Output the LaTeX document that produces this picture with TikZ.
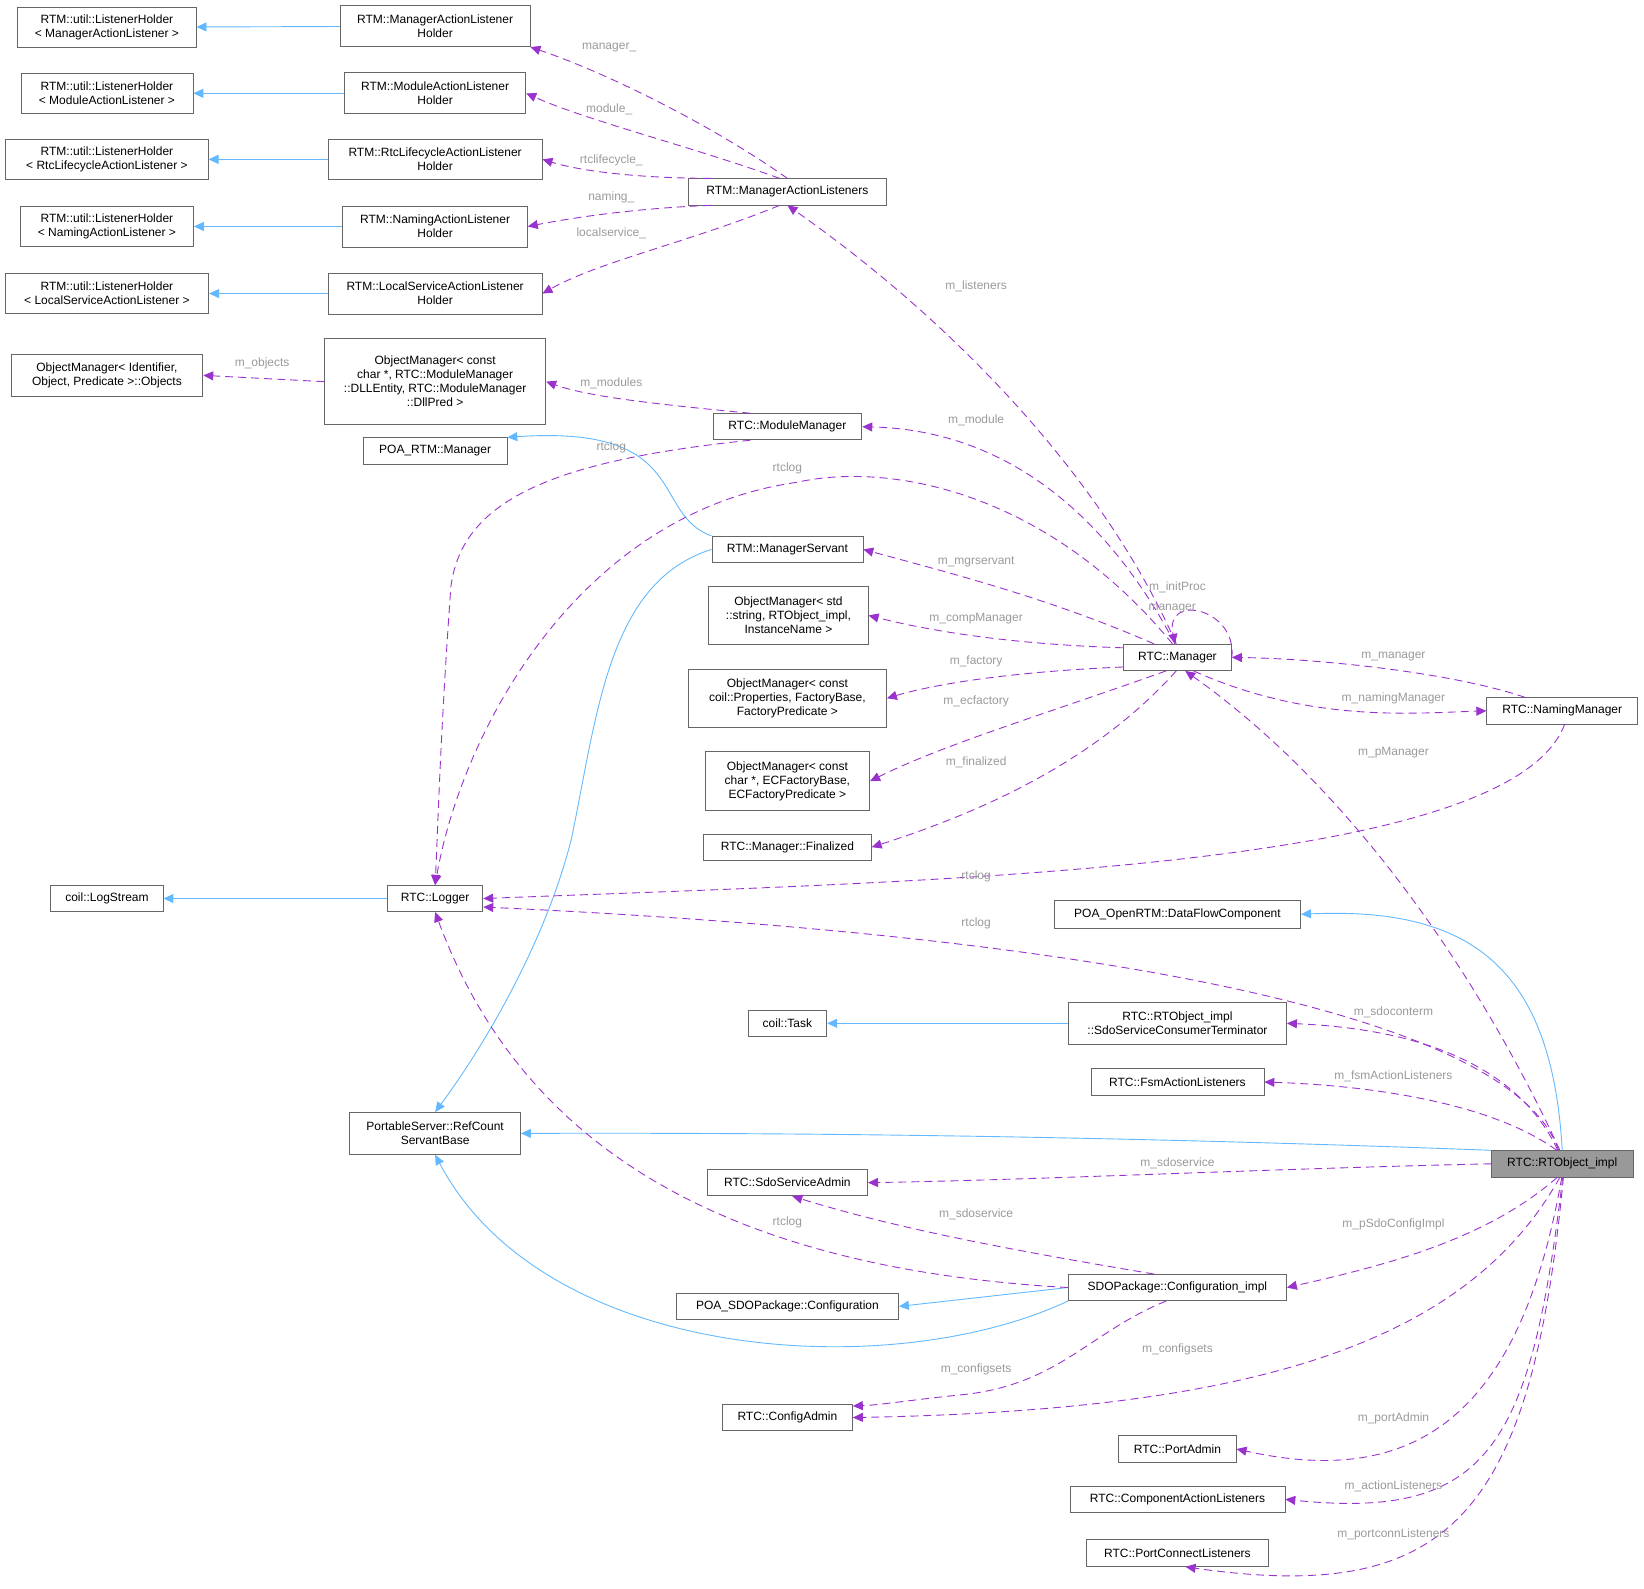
\documentclass[tikz,border=0pt]{standalone}
\usepackage{fontspec}
\setmainfont{Liberation Sans}
\usetikzlibrary{arrows.meta}
\definecolor{inh}{HTML}{63B8FF}
\definecolor{use}{HTML}{9A32CD}
\definecolor{lblc}{HTML}{9A9A9A}
\definecolor{bord}{HTML}{666666}
\begin{document}
\begin{tikzpicture}[x=1.0485pt,y=-1.0485pt,
  box/.style={draw=bord,fill=white,line width=0.8pt,inner sep=1pt,align=center,font=\fontsize{12}{14}\selectfont},
  inhe/.style={draw=inh,line width=0.9pt,-{Triangle[length=10pt,width=9pt]}},
  dep/.style={draw=use,line width=0.9pt,dash pattern=on 8pt off 5pt,-{Triangle[length=10pt,width=9pt]}},
  lbl/.style={text=lblc,font=\fontsize{12}{14}\selectfont,inner sep=0pt}]
\useasboundingbox (0,0) rectangle (1568,1515.5);
\newcommand\nd[7][]{\node[box,minimum width=#5*1.0485pt,minimum height=#6*1.0485pt,#1] (#2) at (#3,#4) {#7};}
\nd{h1}{102}{26}{170}{38}{RTM::util::ListenerHolder\\< ManagerActionListener >}
\nd{h2}{102}{89}{164}{38}{RTM::util::ListenerHolder\\< ModuleActionListener >}
\nd{h3}{102}{152}{193}{38}{RTM::util::ListenerHolder\\< RtcLifecycleActionListener >}
\nd{h4}{102}{216}{165}{38}{RTM::util::ListenerHolder\\< NamingActionListener >}
\nd{h5}{102}{280}{194}{38}{RTM::util::ListenerHolder\\< LocalServiceActionListener >}
\nd{mh1}{415}{25}{181}{39}{RTM::ManagerActionListener\\Holder}
\nd{mh2}{415}{89}{173}{39}{RTM::ModuleActionListener\\Holder}
\nd{mh3}{415}{152}{204}{39}{RTM::RtcLifecycleActionListener\\Holder}
\nd{mh4}{415}{216}{176}{39}{RTM::NamingActionListener\\Holder}
\nd{mh5}{415}{280}{204}{39}{RTM::LocalServiceActionListener\\Holder}
\nd{MAL}{751}{183}{189}{25}{RTM::ManagerActionListeners}
\nd{objs}{102}{358}{183}{40}{ObjectManager< Identifier,\\ Object, Predicate >::Objects}
\nd{omdll}{415}{364}{211}{82}{ObjectManager< const\\ char *, RTC::ModuleManager\\::DLLEntity, RTC::ModuleManager\\::DllPred >}
\nd{POARTM}{415}{430}{137}{25}{POA\_RTM::Manager}
\nd{ModMgr}{751}{407}{142}{25}{RTC::ModuleManager}
\nd{MgrSrv}{751}{524}{144}{25}{RTM::ManagerServant}
\nd{OMstd}{752}{587}{152}{55}{ObjectManager< std\\::string, RTObject\_impl,\\InstanceName >}
\nd{OMfac}{751}{666}{189}{55}{ObjectManager< const\\coil::Properties, FactoryBase,\\FactoryPredicate >}
\nd{OMec}{751}{745}{157}{56}{ObjectManager< const\\char *, ECFactoryBase,\\ECFactoryPredicate >}
\nd{Fin}{751}{808}{160}{25}{RTC::Manager::Finalized}
\nd{Mgr}{1123}{627}{103}{25}{RTC::Manager}
\nd{NamMgr}{1490}{678}{144}{25}{RTC::NamingManager}
\nd{LogS}{102}{857}{107}{25}{coil::LogStream}
\nd{Logger}{415}{857}{91}{25}{RTC::Logger}
\nd{DFC}{1123}{872}{235}{26}{POA\_OpenRTM::DataFlowComponent}
\nd{Task}{751}{976}{75}{25}{coil::Task}
\nd{Term}{1123}{976}{208}{40}{RTC::RTObject\_impl\\::SdoServiceConsumerTerminator}
\nd{Fsm}{1123}{1032}{165}{26}{RTC::FsmActionListeners}
\nd{RefC}{415}{1081}{163}{40}{PortableServer::RefCount\\ServantBase}
\nd[fill={rgb,255:red,153;green,153;blue,153}]{RTO}{1490}{1110}{135}{25}{RTC::RTObject\_impl}
\nd{SdoA}{751}{1128}{153}{25}{RTC::SdoServiceAdmin}
\nd{Conf}{1123}{1228}{208}{25}{SDOPackage::Configuration\_impl}
\nd{POASDO}{751}{1246}{212}{25}{POA\_SDOPackage::Configuration}
\nd{CfgA}{751}{1352}{124}{25}{RTC::ConfigAdmin}
\nd{PortA}{1123}{1382}{112}{25}{RTC::PortAdmin}
\nd{CAL}{1123}{1430}{205}{25}{RTC::ComponentActionListeners}
\nd{PCL}{1123}{1481}{173}{26}{RTC::PortConnectListeners}
% inheritance
\foreach \i in {1,...,5}{\draw[inhe] (mh\i) -- (h\i);}
\draw[inhe] (Logger) -- (LogS);
\draw[inhe] (Term) -- (Task);
\draw[inhe] (Conf.west) -- (POASDO.east);
\draw[inhe] (MgrSrv.north west) .. controls (620,490) and (660,405) .. (POARTM.north east);
\draw[inhe] (MgrSrv.west) .. controls (580,555) and (570,680) .. (545,800) .. controls (520,900) and (460,1000) .. (RefC.north);
\draw[inhe] (RTO.north) .. controls (1480,920) and (1400,865) .. (DFC.east);
\draw[inhe] (RTO.north west) .. controls (1100,1085) and (800,1080) .. (RefC.east);
\draw[inhe] (Conf.south west) .. controls (850,1320) and (520,1300) .. (RefC.south);
% usage
\draw[dep] (MAL.north) .. controls (680,120) and (580,70) .. (mh1.south east);
\draw[dep] (MAL.120) .. controls (660,140) and (560,115) .. (mh2.east);
\draw[dep] (MAL.170) .. controls (620,170) and (560,165) .. (mh3.east);
\draw[dep] (MAL.190) .. controls (620,198) and (560,205) .. (mh4.east);
\draw[dep] (MAL.-120) .. controls (660,230) and (570,250) .. (mh5.east);
\draw[dep] (omdll.west) -- (objs.east);
\draw[dep] (ModMgr.160) .. controls (620,385) and (560,378) .. (omdll.east);
\draw[dep] (ModMgr.200) .. controls (520,440) and (440,480) .. (430,560) .. controls (420,700) and (418,780) .. (Logger.north);
\draw[dep] (Mgr.110) .. controls (1000,470) and (850,440) .. (760,460) .. controls (550,490) and (440,700) .. (Logger.north);
\draw[dep] (Mgr.95) .. controls (1050,450) and (900,300) .. (MAL.south);
\draw[dep] (Mgr.100) .. controls (1050,480) and (950,410) .. (ModMgr.east);
\draw[dep] (Mgr.150) .. controls (1000,570) and (900,545) .. (MgrSrv.east);
\draw[dep] (Mgr.east) .. controls (1180,580) and (1110,565) .. (Mgr.100);
\draw[dep] (Mgr.170) .. controls (980,615) and (900,605) .. (OMstd.east);
\draw[dep] (Mgr.190) .. controls (980,640) and (900,650) .. (OMfac.east);
\draw[dep] (Mgr.-130) .. controls (1000,680) and (900,710) .. (OMec.east);
\draw[dep] (Mgr.-95) .. controls (1050,720) and (950,770) .. (Fin.east);
\draw[dep] (NamMgr.160) .. controls (1380,640) and (1250,628) .. (Mgr.east);
\draw[dep] (Mgr.-40) .. controls (1250,690) and (1350,680) .. (NamMgr.west);
\draw[dep] (NamMgr.-80) .. controls (1440,830) and (900,840) .. (Logger.east);
\draw[dep] (RTO.100) .. controls (1420,950) and (1300,760) .. (Mgr.-60);
\draw[dep] (RTO.105) .. controls (1440,960) and (1000,890) .. (Logger.-10);
\draw[dep] (RTO.108) .. controls (1440,1000) and (1320,980) .. (Term.east);
\draw[dep] (RTO.112) .. controls (1420,1050) and (1300,1035) .. (Fsm.east);
\draw[dep] (RTO.west) .. controls (1200,1115) and (1000,1125) .. (SdoA.east);
\draw[dep] (RTO.-110) .. controls (1420,1180) and (1330,1205) .. (Conf.east);
\draw[dep] (RTO.-100) .. controls (1400,1280) and (1200,1345) .. (CfgA.east);
\draw[dep] (RTO.-92) .. controls (1450,1350) and (1350,1420) .. (PortA.east);
\draw[dep] (RTO.-88) .. controls (1460,1380) and (1420,1450) .. (CAL.east);
\draw[dep] (RTO.-85) .. controls (1460,1450) and (1380,1530) .. (PCL.-60);
\draw[dep] (Conf.150) .. controls (950,1190) and (850,1170) .. (SdoA.-70);
\draw[dep] (Conf.west) .. controls (700,1210) and (500,1100) .. (Logger.south);
\draw[dep] (Conf.-130) .. controls (1040,1270) and (1010,1320) .. (920,1330) .. controls (870,1335) and (840,1340) .. (CfgA.10);
% labels
\node[lbl] (l1) at (581,45) {manager\_};
\node[lbl] (l2) at (581,104) {module\_};
\node[lbl] (l3) at (583,153) {rtclifecycle\_};
\node[lbl] (l4) at (583,188) {naming\_};
\node[lbl] (l5) at (583,223) {localservice\_};
\node[lbl] (l6) at (250,347) {m\_objects};
\node[lbl] (l7) at (583,366) {m\_modules};
\node[lbl] (l8) at (583,427) {rtclog};
\node[lbl] (l9) at (931,273) {m\_listeners};
\node[lbl] (l10) at (931,401) {m\_module};
\node[lbl] (l11) at (751,447) {rtclog};
\node[lbl] (l12) at (931,536) {m\_mgrservant};
\node[lbl] (l13) at (1123,560) {m\_initProc};
\node[lbl] (l14) at (1118,580) {manager};
\node[lbl] (l15) at (931,590) {m\_compManager};
\node[lbl] (l16) at (931,631) {m\_factory};
\node[lbl] (l17) at (931,669) {m\_ecfactory};
\node[lbl] (l18) at (931,727) {m\_finalized};
\node[lbl] (l19) at (1329,626) {m\_manager};
\node[lbl] (l20) at (1329,666) {m\_namingManager};
\node[lbl] (l21) at (1329,718) {m\_pManager};
\node[lbl] (l22) at (931,836) {rtclog};
\node[lbl] (l23) at (931,881) {rtclog};
\node[lbl] (l24) at (1329,966) {m\_sdoconterm};
\node[lbl] (l25) at (1329,1027) {m\_fsmActionListeners};
\node[lbl] (l26) at (1123,1110) {m\_sdoservice};
\node[lbl] (l27) at (931,1158) {m\_sdoservice};
\node[lbl] (l28) at (751,1166) {rtclog};
\node[lbl] (l29) at (1329,1168) {m\_pSdoConfigImpl};
\node[lbl] (l30) at (1123,1287) {m\_configsets};
\node[lbl] (l31) at (931,1306) {m\_configsets};
\node[lbl] (l32) at (1329,1353) {m\_portAdmin};
\node[lbl] (l33) at (1329,1418) {m\_actionListeners};
\node[lbl] (l34) at (1329,1463) {m\_portconnListeners};
\end{tikzpicture}
\end{document}
